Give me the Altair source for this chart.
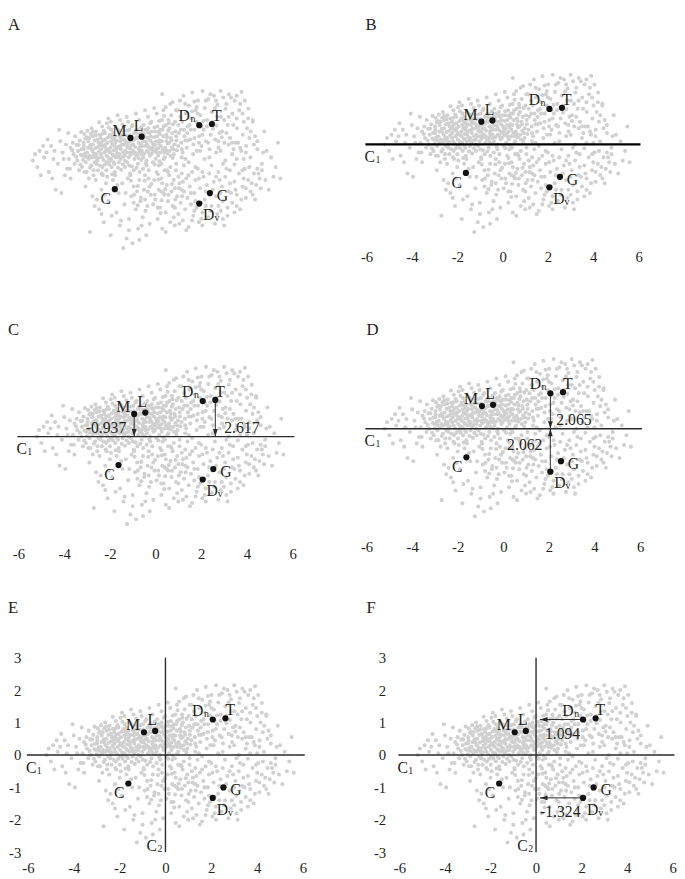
import altair as alt
import pandas as pd

# ---------------- data ----------------
core = [
    (-3.62, 0.05), (-3.55, 0.40), (-3.58, -0.25),
    (-3.42, 0.20), (-3.37, -0.10), (-3.45, 0.55), (-3.35, 0.75),
    (-3.22, 0.30), (-3.18, -0.30), (-3.25, 0.00), (-3.15, 0.62),
    (-3.03, 0.15), (-2.97, 0.45), (-3.05, -0.20), (-2.95, 0.82), (-3.00, 0.02),
    (-2.83, 0.25), (-2.78, 0.60), (-2.85, -0.35), (-2.76, 0.05), (-2.81, 0.92), (-2.79, 0.40),
    (-2.62, 0.10), (-2.58, 0.50), (-2.64, -0.15), (-2.57, 0.75), (-2.60, 0.30), (-2.55, -0.45), (-2.63, 1.00),
    (-2.43, 0.20), (-2.38, 0.65), (-2.41, -0.10), (-2.36, 0.42), (-2.44, 0.90), (-2.39, 0.00), (-2.35, -0.30),
    (-2.22, 0.35), (-2.18, 0.10), (-2.24, 0.70), (-2.16, -0.20), (-2.21, 0.55), (-2.17, 1.05), (-2.23, 0.20), (-2.19, -0.40),
    (-2.03, 0.50), (-1.98, 0.15), (-2.05, 0.85), (-1.97, -0.05), (-2.01, 0.30), (-1.96, 1.15), (-2.04, 0.65), (-1.99, -0.30),
    (-1.82, 0.25), (-1.78, 0.60), (-1.84, 0.00), (-1.77, 0.95), (-1.81, 0.40), (-1.76, -0.20), (-1.83, 0.80), (-1.79, 1.20),
    (-1.63, 0.45), (-1.58, 0.10), (-1.61, 0.75), (-1.56, 0.30), (-1.64, -0.10), (-1.57, 1.00), (-1.60, 0.55), (-1.62, -0.35),
    (-1.43, 0.20), (-1.38, 0.60), (-1.41, 0.90), (-1.36, 0.35), (-1.44, -0.05), (-1.39, 1.25), (-1.37, 0.05), (-1.42, 0.75),
    (-1.22, 0.50), (-1.18, 0.15), (-1.24, 0.80), (-1.16, 0.30), (-1.21, 1.05), (-1.17, -0.20), (-1.23, 0.65), (-1.19, 0.00),
    (-1.03, 0.40), (-0.98, 0.95), (-1.01, 0.10), (-0.96, 0.60), (-1.04, 1.20), (-0.99, -0.15), (-0.97, 0.25),
    (-0.83, 0.30), (-0.78, 0.85), (-0.81, 0.50), (-0.76, 0.05), (-0.84, 1.10), (-0.79, -0.30), (-0.77, 0.65),
    (-0.62, 0.20), (-0.58, 0.55), (-0.64, 0.95), (-0.57, 0.35), (-0.61, -0.10), (-0.56, 1.25), (-0.63, 0.70),
    (-0.43, 0.45), (-0.38, 0.10), (-0.41, 0.85), (-0.36, 1.10), (-0.44, 0.30), (-0.39, -0.25), (-0.37, 0.60),
    (-0.22, 0.30), (-0.18, 0.70), (-0.24, 0.00), (-0.16, 1.00), (-0.21, 0.50), (-0.17, 1.35), (-0.23, -0.15),
    (-0.03, 0.20), (0.02, 0.55), (-0.01, 0.90), (0.04, -0.05), (-0.02, 1.20), (0.03, 0.40),
    (0.18, 0.35), (0.22, 0.75), (0.16, 0.05), (0.24, 1.05), (0.19, 0.60), (0.21, 1.45),
    (0.38, 0.25), (0.43, 0.60), (0.36, 0.95), (0.41, -0.10), (0.44, 1.25), (0.39, 0.45),
    (0.58, 0.40), (0.63, 0.80), (0.56, 0.10), (0.61, 1.10), (0.64, 0.60),
    (0.78, 0.30), (0.83, 0.70), (0.76, 1.00), (0.81, 0.15), (0.84, 1.40),
    (0.98, 0.50), (1.03, 0.90), (0.96, 0.20), (1.01, 1.20),
    (0.45, 2.05), (0.90, 1.80), (0.60, 1.65),
]
core_fill = [
    (-3.48, 0.32), (-3.31, 0.12), (-3.28, 0.48), (-3.12, -0.12), (-3.09, 0.88), (-3.07, 0.35), (-2.92, 0.22),
    (-2.89, -0.05), (-2.90, 0.68), (-2.72, 0.15), (-2.69, 0.48), (-2.70, -0.22), (-2.67, 0.82), (-2.52, 0.22),
    (-2.49, 0.62), (-2.50, -0.05), (-2.47, 0.38), (-2.33, 0.55), (-2.31, 0.28), (-2.29, 0.80), (-2.27, -0.15),
    (-2.13, 0.45), (-2.11, 0.02), (-2.09, 0.92), (-2.08, 0.25), (-1.93, 0.35), (-1.91, 0.72), (-1.89, 0.08),
    (-1.88, 1.02), (-1.87, -0.12), (-1.73, 0.50), (-1.71, 0.18), (-1.69, 0.85), (-1.68, -0.05), (-1.67, 0.32),
    (-1.53, 0.62), (-1.51, 0.22), (-1.49, 0.95), (-1.48, -0.22), (-1.47, 0.42), (-1.33, 0.48), (-1.31, 0.78),
    (-1.29, 0.12), (-1.28, 1.12), (-1.27, -0.12), (-1.13, 0.58), (-1.11, 0.25), (-1.09, 0.92), (-1.08, -0.05),
    (-1.07, 0.42), (-0.93, 0.18), (-0.91, 0.75), (-0.89, 0.48), (-0.88, 1.05), (-0.87, -0.18), (-0.73, 0.42),
    (-0.71, 0.92), (-0.69, 0.15), (-0.68, 0.72), (-0.67, -0.22), (-0.53, 0.28), (-0.51, 0.82), (-0.49, 0.52),
    (-0.48, 1.02), (-0.47, 0.02), (-0.33, 0.22), (-0.31, 0.72), (-0.29, 0.95), (-0.28, 0.45), (-0.27, -0.08),
    (-0.13, 0.42), (-0.11, 0.85), (-0.09, 0.15), (-0.08, 1.15), (-0.07, 0.62), (0.07, 0.28), (0.09, 0.72),
    (0.11, 1.02), (0.12, -0.12), (0.13, 0.48), (0.27, 0.15), (0.29, 0.88), (0.31, 0.52), (0.32, 1.22),
    (0.33, -0.02), (0.47, 0.35), (0.49, 0.75), (0.51, 1.05), (0.52, 0.05), (0.53, 1.38), (0.67, 0.22),
    (0.69, 0.52), (0.71, 0.92), (0.72, 1.25), (0.87, 0.42), (0.89, 0.85), (0.91, 0.08), (0.92, 1.12),
    (1.07, 0.62), (1.09, 0.32), (-2.98, 0.55), (-2.58, 0.88), (-2.18, 0.82), (-1.78, 0.05), (-1.38, 0.45),
    (-0.98, 0.78), (-0.58, 0.08), (-0.18, 0.88), (0.22, 0.25), (0.62, 0.32), (-2.85, 0.72), (-2.45, 0.10),
    (-2.05, 0.42), (-1.65, 0.65), (-1.25, 0.92), (-0.85, 0.22), (-0.45, 0.68), (-0.05, 0.35), (0.35, 0.82),
    (0.75, 0.55),
    (-3.20, 0.48), (-3.10, 0.18), (-2.98, 0.35), (-2.88, 0.12), (-2.74, 0.70), (-2.66, 0.38), (-2.54, 0.15),
    (-2.46, 0.78), (-2.34, 0.08), (-2.26, 0.48), (-2.14, 0.62), (-2.06, -0.12), (-1.94, 0.55), (-1.86, 0.28),
    (-1.74, 0.72), (-1.66, 0.15), (-1.54, 0.40), (-1.46, 0.12), (-1.34, 0.68), (-1.26, 0.25), (-1.14, 0.78),
    (-1.06, 0.52), (-0.94, 0.38), (-0.86, 0.62), (-0.74, 0.25), (-0.66, 0.85), (-0.54, 0.42), (-0.46, 0.20),
    (-0.34, 0.82), (-0.26, 0.58), (-0.14, 0.25), (-0.06, 0.75), (0.06, 0.50), (0.14, 0.90), (0.26, 0.38),
    (0.34, 0.62), (0.46, 0.95), (0.54, 0.25), (0.66, 0.72), (0.74, 1.15), (0.86, 0.62), (0.94, 0.35),
    (1.06, 0.75), (1.14, 0.45), (1.26, 0.95), (1.34, 0.25), (1.46, 0.62), (1.54, 0.85), (-2.94, -0.35),
    (-2.54, -0.30), (-2.14, -0.45), (-1.74, -0.42), (-1.34, -0.28), (-0.94, -0.45), (-0.54, -0.35),
    (-0.14, -0.30), (0.26, -0.42), (0.66, -0.30), (1.06, -0.10), (1.46, 0.05), (-2.30, 1.18), (-1.90, 1.30),
    (-1.50, 1.40), (-1.10, 1.35), (-0.70, 1.45), (-0.30, 1.55), (0.10, 1.62), (0.50, 1.55), (0.80, 1.75),
    (1.05, 1.55),
]
lower_middle = [
    (-0.92, -0.62), (-0.62, -0.78), (-0.32, -0.62), (-0.02, -0.72), (0.28, -0.58), (0.58, -0.88), (0.88, -0.72),
    (1.18, -0.85), (-0.78, -1.05), (-0.48, -1.15), (-0.18, -0.95), (0.12, -1.05), (0.42, -1.22), (0.72, -1.05),
    (1.02, -1.20), (1.32, -1.10), (-0.62, -1.38), (-0.28, -1.55), (0.05, -1.35), (0.38, -1.62),
]
upper_right = [
    (1.12, 1.55), (1.18, 0.85), (1.22, 1.85), (1.28, 0.55), (1.33, 1.20), (1.38, 2.00), (1.42, 0.75), (1.47, 1.45),
    (1.52, 0.40), (1.56, 1.05), (1.61, 1.70), (1.66, 0.65), (1.71, 1.30), (1.76, 2.10), (1.81, 0.50), (1.86, 0.95),
    (1.91, 1.55), (1.96, 0.30), (2.01, 1.85), (2.06, 0.75), (2.11, 1.40), (2.16, 0.45), (2.21, 2.15), (2.26, 0.95),
    (2.31, 1.62), (2.36, 0.60), (2.41, 1.25), (2.46, 1.90), (2.51, 0.35), (2.56, 0.80), (2.61, 1.50), (2.71, 2.00),
    (2.76, 0.65), (2.81, 1.08), (2.86, 1.72), (2.91, 0.40), (3.01, 1.35), (3.06, 0.90), (3.11, 1.95), (3.16, 0.55),
    (3.21, 1.60), (3.31, 1.10), (3.36, 2.05), (3.41, 0.70), (3.51, 1.45), (3.56, 0.35), (3.61, 1.85), (3.71, 1.00),
    (3.76, 0.55), (3.81, 1.55), (3.91, 2.12), (3.96, 0.80), (4.01, 1.20), (4.11, 0.45), (4.21, 1.60), (4.31, 0.90),
    (1.15, 1.10), (1.70, 0.95), (2.25, 1.22), (2.66, 0.98), (1.45, 1.75), (1.95, 1.20), (2.85, 1.35), (3.25, 0.85),
    (3.70, 1.30), (1.30, 0.35), (4.40, 1.25), (3.00, 2.15),
    (1.25, 1.35), (1.55, 0.62), (1.85, 1.82), (2.15, 1.05), (2.45, 0.55), (2.75, 1.62), (3.05, 0.72), (3.35, 1.35),
    (3.65, 0.55), (3.95, 1.45), (4.25, 0.70), (1.40, 0.95), (1.75, 1.52), (2.05, 0.55), (2.35, 1.85), (2.65, 1.20),
    (2.95, 0.85), (3.25, 1.75), (3.55, 1.10), (3.85, 0.40), (4.15, 1.00), (4.50, 0.75), (1.95, 1.65), (2.55, 2.05),
    (3.45, 1.95),
    (1.65, 1.10), (2.00, 1.45), (2.40, 1.05), (2.80, 1.85), (3.15, 1.25), (3.50, 0.55), (3.85, 1.75), (4.20, 1.30),
    (1.85, 0.70), (2.20, 0.80), (2.90, 0.60), (3.35, 0.50), (4.45, 0.50), (4.05, 1.85), (3.70, 2.00),
]
mid_right = [
    (1.30, 0.10), (1.80, 0.20), (2.30, 0.05), (2.80, 0.25), (3.20, 0.00), (3.50, 0.20), (3.90, 0.30), (4.30, 0.10),
    (4.60, 0.35), (1.60, -0.05), (2.10, 0.30), (2.50, 0.10), (3.00, 0.30), (3.70, 0.05), (4.10, 0.25),
]
lower_right = [
    (0.10, -0.60), (0.15, -1.20), (0.20, -0.35), (0.25, -1.80), (0.30, -0.90), (0.35, -1.45), (0.40, -0.55), (0.45, -2.10),
    (0.50, -1.00), (0.55, -0.30), (0.60, -1.60), (0.65, -0.75), (0.70, -1.25), (0.75, -0.45), (0.80, -1.90), (0.85, -0.95),
    (0.90, -1.40), (0.95, -0.60), (1.00, -2.00), (1.05, -0.30), (1.10, -1.10), (1.15, -1.65), (1.20, -0.70), (1.25, -1.30),
    (1.30, -0.40), (1.35, -1.85), (1.40, -0.95), (1.45, -1.50), (1.50, -0.55), (1.55, -1.15), (1.60, -2.05), (1.65, -0.80),
    (1.70, -1.35), (1.75, -0.35), (1.80, -1.70), (1.85, -1.00), (1.90, -0.60), (1.95, -1.45), (2.00, -0.25), (2.05, -1.90),
    (2.10, -0.85), (2.20, -1.60), (2.25, -0.50), (2.30, -1.20), (2.40, -0.75), (2.45, -1.75), (2.50, -0.40), (2.60, -1.40),
    (2.70, -0.65), (2.75, -1.95), (2.80, -1.10), (2.90, -0.35), (3.00, -1.55), (3.05, -0.80), (3.10, -1.25), (3.20, -0.50),
    (3.30, -1.70), (3.35, -0.95), (3.40, -0.30), (3.50, -1.30), (3.60, -0.65), (3.70, -1.05), (3.80, -0.40), (3.85, -1.50),
    (3.95, -0.80), (4.05, -0.25), (4.10, -1.15), (4.20, -0.60), (4.30, -0.95), (4.45, -0.40), (4.55, -0.75), (4.70, -0.55),
    (0.30, -0.15), (0.80, -0.20), (1.40, -0.15), (1.90, -0.20), (2.60, -0.15), (3.10, -0.10), (3.60, -0.12), (4.00, 0.05),
    (0.55, -1.05), (1.20, -1.95), (2.15, -1.30), (2.95, -0.60), (3.45, -1.00), (4.25, -0.20), (1.00, -0.85), (2.35, -0.95),
    (0.40, -0.95), (0.70, -0.35), (1.00, -1.45), (1.30, -0.90), (1.60, -0.45), (1.90, -1.25), (2.20, -0.35), (2.50, -1.05),
    (2.80, -0.50), (3.10, -1.80), (3.40, -0.70), (3.70, -1.40), (4.00, -0.55), (4.40, -1.05), (0.60, -2.20), (1.50, -2.15),
    (2.20, -2.00), (2.90, -1.40), (3.60, -1.60), (4.10, -0.85), (0.25, -1.45), (0.95, -1.75), (1.70, -1.00), (2.55, -1.55),
    (3.25, -0.25), (3.90, -1.20), (4.60, -0.25), (0.45, -0.70), (1.15, -0.50), (1.85, -1.55),
    (2.05, -0.55), (2.35, -1.40), (2.65, -0.90), (3.00, -1.00), (3.30, -1.45), (3.65, -0.90), (3.95, -0.30),
    (4.35, -0.70), (2.15, -1.80), (2.85, -1.65), (1.35, -0.65), (1.75, -1.85), (3.15, -2.00), (4.50, -1.20),
    (4.80, -0.30),
]
lower_left = [
    (-2.90, -0.80), (-2.70, -2.20), (-2.60, -1.10), (-2.45, -0.60), (-2.30, -1.50), (-2.20, -0.90), (-2.10, -1.90),
    (-2.00, -0.70), (-1.90, -1.25), (-1.80, -2.30), (-1.70, -0.60), (-1.55, -1.60), (-1.45, -1.00), (-1.40, -2.00),
    (-1.30, -0.70), (-1.20, -1.35), (-1.10, -2.40), (-1.05, -0.55), (-1.00, -1.80), (-0.90, -1.10), (-0.85, -2.55),
    (-0.80, -0.80), (-0.70, -1.50), (-0.60, -2.10), (-0.55, -0.60), (-0.50, -1.25), (-0.40, -1.75), (-0.35, -0.90),
    (-0.25, -2.30), (-0.20, -1.40), (-0.15, -0.55), (-0.10, -1.95), (-0.05, -1.05), (-1.60, -0.45), (-2.50, -1.40),
    (-0.95, -0.40), (-0.30, -0.45), (-1.25, -2.70),
    (-2.75, -0.55), (-2.40, -1.20), (-2.05, -1.05), (-1.75, -1.70), (-1.50, -0.75), (-1.15, -1.00), (-0.80, -1.30),
    (-0.45, -2.00), (-0.10, -0.80), (-1.95, -0.50), (-1.35, -1.85), (-0.65, -0.95), (-0.30, -1.20), (-2.20, -1.65),
    (-1.00, -2.15), (-0.55, -2.45),
]
left_tail = [
    (-5.20, 0.00), (-5.00, -0.20), (-4.90, 0.30), (-4.70, 0.10), (-4.50, -0.35), (-4.40, 0.45), (-4.30, 0.05),
    (-4.10, -0.10), (-4.00, 0.60), (-3.90, 0.25), (-3.80, -0.45), (-3.75, 0.50), (-4.20, -0.90), (-3.95, -1.00),
    (-4.60, 0.25), (-3.65, 0.85), (-4.85, -0.45), (-4.55, 0.65), (-4.25, 0.30), (-3.85, 0.05), (-4.75, 0.45),
    (-4.35, -0.55), (-3.70, -0.25), (-3.55, -0.55), (-5.10, 0.20), (-4.05, 0.95),
]
right_tail = [
    (4.60, 0.60), (4.80, -0.10), (5.00, 0.30), (5.30, -0.50), (5.50, 0.55), (5.10, -0.90), (4.90, 0.90),
    (5.60, -0.55), (4.40, 1.20), (4.75, -0.85), (4.85, 0.25), (5.20, 0.10), (4.65, -0.40), (5.40, -0.20),
    (4.95, -0.60),
]

point_names = ["M", "L", "Dn", "T", "C", "G", "Dv"]
point_x = [-0.937, -0.45, 2.065, 2.617, -1.62, 2.53, 2.062]
point_y = [0.70, 0.74, 1.094, 1.13, -0.88, -1.00, -1.324]
label_main = ["M", "L", "D", "T", "C", "G", "D"]
label_sub = ["", "", "n", "", "", "", "v"]

x_tick_values = [-6, -4, -2, 0, 2, 4, 6]
y_tick_values = [-3, -2, -1, 0, 1, 2, 3]

# ---------------- styles ----------------
FONT = "Liberation Serif"
TEXT = "#231f20"
GRAY = "#d0d0d0"
LINE = "#2a2a2a"
LABEL_SIZE = 16
SUB_SIZE = 10
PX_PER_Y = 33.0
# name -> (align, dx, dy)
LABEL_STYLE = {
    "M": ("right", -4, -7),
    "L": ("center", -3, -11),
    "Dn": ("right", -4, -9),
    "T": ("left", 0, -8),
    "C": ("right", -4, 10),
    "G": ("left", 7, 3),
    "Dv": ("left", 4, 12),
}
MAIN_W = 11.5
SUB_W = 5.5
DOWN = "M-0.7,-2.2L0,0L0.7,-2.2Z"
UP = "M-0.7,2.2L0,0L0.7,2.2Z"
LEFT = "M2.2,-0.7L0,0L2.2,0.7Z"

cloud = (core + core_fill + lower_middle + upper_right + mid_right + lower_right
         + lower_left + left_tail + right_tail)
cloud_df = pd.DataFrame(cloud, columns=["x", "y"])
pts_df = pd.DataFrame({"name": point_names, "x": point_x, "y": point_y,
                       "main": label_main, "sub": label_sub})


def text_mark(**kw):
    base = dict(font=FONT, color=TEXT, baseline="middle")
    base.update(kw)
    return base


def make_panel(letter, xmin, px_per_x, ydom, letter_x, letter_y, show_x, show_y,
               xlab_pad=10, ylab_pad=12, yaxis_offset=0, hline=False, vline=False,
               line_w=1.4, line_color=LINE, arrows=None):
    width = (6 - xmin) * px_per_x
    height = (ydom[1] - ydom[0]) * PX_PER_Y
    xs = alt.Scale(domain=[xmin, 6], nice=False, zero=False)
    ys = alt.Scale(domain=ydom, nice=False, zero=False)
    xaxis = alt.Axis(values=x_tick_values, domain=False, ticks=False, grid=False, title=None,
                     labelFont=FONT, labelFontSize=15, labelColor=TEXT, labelPadding=xlab_pad,
                     labelFlush=False, labelOverlap=False, labelExpr="'' + datum.value") if show_x else None
    yaxis = alt.Axis(values=y_tick_values, domain=False, ticks=False, grid=False, title=None,
                     labelFont=FONT, labelFontSize=15, labelColor=TEXT, labelPadding=ylab_pad,
                     offset=yaxis_offset, labelFlush=False, labelOverlap=False,
                     labelExpr="'' + datum.value") if show_y else None
    X = alt.X("x:Q", scale=xs, axis=xaxis)
    Y = alt.Y("y:Q", scale=ys, axis=yaxis)

    layers = [alt.Chart(cloud_df).mark_circle(size=17, color=GRAY, opacity=1).encode(x=X, y=Y)]

    if hline:
        hdf = pd.DataFrame({"x": [-6.05], "x2": [6.08], "y": [0.0]})
        layers.append(alt.Chart(hdf).mark_rule(color=line_color, strokeWidth=line_w)
                      .encode(x=X, x2="x2:Q", y=Y))
        cdf = pd.DataFrame({"x": [-6.0], "y": [0.0], "main": ["C"], "sub": ["1"]})
        layers.append(alt.Chart(cdf).mark_text(**text_mark(align="left", dx=-2, dy=13, fontSize=LABEL_SIZE))
                      .encode(x=X, y=Y, text="main:N"))
        layers.append(alt.Chart(cdf).mark_text(**text_mark(align="left", dx=-2 + 11, dy=16, fontSize=SUB_SIZE))
                      .encode(x=X, y=Y, text="sub:N"))
    if vline:
        vdf = pd.DataFrame({"x": [0.0], "y": [-3.0], "y2": [3.0]})
        layers.append(alt.Chart(vdf).mark_rule(color=line_color, strokeWidth=line_w)
                      .encode(x=X, y=Y, y2="y2:Q"))
        c2 = pd.DataFrame({"x": [0.0], "y": [-3.0], "main": ["C"], "sub": ["2"]})
        layers.append(alt.Chart(c2).mark_text(**text_mark(align="right", dx=-3 - SUB_W, dy=-6, fontSize=LABEL_SIZE))
                      .encode(x=X, y=Y, text="main:N"))
        layers.append(alt.Chart(c2).mark_text(**text_mark(align="right", dx=-3, dy=-3, fontSize=SUB_SIZE))
                      .encode(x=X, y=Y, text="sub:N"))

    if arrows:
        for name, kind, align, tdx, tdy in arrows:
            row = pts_df[pts_df["name"] == name].iloc[0]
            if kind == "v":
                sdf = pd.DataFrame({"x": [row.x], "y": [row.y], "y2": [0.0]})
                layers.append(alt.Chart(sdf).mark_rule(color=LINE, strokeWidth=1)
                              .encode(x=X, y=Y, y2="y2:Q"))
                hdf2 = pd.DataFrame({"x": [row.x], "y": [0.0]})
                shape = DOWN if row.y > 0 else UP
                layers.append(alt.Chart(hdf2).mark_point(shape=shape, filled=True, size=49, color=LINE, opacity=1)
                              .encode(x=X, y=Y))
                tdf = pd.DataFrame({"x": [row.x], "y": [0.0], "t": [f"{row.x:.3f}"]})
            else:
                sdf = pd.DataFrame({"x": [row.x], "x2": [0.0], "y": [row.y]})
                layers.append(alt.Chart(sdf).mark_rule(color=LINE, strokeWidth=1, x2Offset=4)
                              .encode(x=X, x2="x2:Q", y=Y))
                hdf2 = pd.DataFrame({"x": [0.0], "y": [row.y]})
                layers.append(alt.Chart(hdf2).mark_point(shape=LEFT, filled=True, size=49, color=LINE,
                                                         opacity=1, xOffset=4)
                              .encode(x=X, y=Y))
                tdf = pd.DataFrame({"x": [0.0], "y": [row.y], "t": [f"{row.y:.3f}"]})
            layers.append(alt.Chart(tdf).mark_text(**text_mark(align=align, dx=tdx, dy=tdy, fontSize=16))
                          .encode(x=X, y=Y, text="t:N"))

    layers.append(alt.Chart(pts_df).mark_circle(size=40, color="#111111", opacity=1).encode(x=X, y=Y))
    for name in point_names:
        align, dx, dy = LABEL_STYLE[name]
        one = pts_df[pts_df["name"] == name]
        has_sub = one["sub"].iloc[0] != ""
        if has_sub and align == "right":
            mdx, sdx = dx - SUB_W, dx
        elif has_sub:
            mdx, sdx = dx, dx + MAIN_W
        else:
            mdx, sdx = dx, dx
        layers.append(alt.Chart(one).mark_text(**text_mark(align=align, dx=mdx, dy=dy, fontSize=LABEL_SIZE))
                      .encode(x=X, y=Y, text="main:N"))
        if has_sub:
            layers.append(alt.Chart(one).mark_text(**text_mark(align=align, dx=sdx, dy=dy + 3, fontSize=SUB_SIZE))
                          .encode(x=X, y=Y, text="sub:N"))

    # panel letter
    ldf = pd.DataFrame({"t": [letter]})
    layers.append(alt.Chart(ldf).mark_text(**text_mark(align="left", fontSize=17))
                  .encode(x=alt.value(letter_x), y=alt.value(letter_y), text="t:N"))
    return alt.layer(*layers).properties(width=width, height=height)


pA = make_panel("A", -6.28, 23.33, [-2.5, 3.5], 0, -22.5, False, False)
pB = make_panel("B", -6.0, 23.08, [-3, 3], -1, -22.5, True, False, xlab_pad=8,
                hline=True, line_w=2.2, line_color="#000000")
pC = make_panel("C", -6.46, 23.25, [-3, 2.74], 0, -18.2, True, False, xlab_pad=13, hline=True,
                arrows=[("M", "v", "right", -8, -9), ("T", "v", "left", 9, -9)])
pD = make_panel("D", -6.0, 23.2, [-3, 2.5], 0, -18.2, True, False, xlab_pad=14, hline=True,
                arrows=[("Dn", "v", "left", 6, -9), ("Dv", "v", "right", -8, 17)])
pE = make_panel("E", -6.87, 23.33, [-3, 3], 0, -50, True, True, xlab_pad=9, ylab_pad=0,
                yaxis_offset=-13, hline=True, vline=True)
pF = make_panel("F", -6.0, 23.17, [-3, 3], -33.5, -50, True, True, xlab_pad=9, ylab_pad=14,
                hline=True, vline=True,
                arrows=[("Dn", "h", "left", 9, 15), ("Dv", "h", "left", 4, 14)])

row1 = alt.hconcat(pA, pB, spacing=71)
row2 = alt.hconcat(pC, pD, spacing=64)
row3 = alt.hconcat(pE, pF, spacing=59.5)

chart = alt.vconcat(alt.vconcat(row1, row2, spacing=57), row3, spacing=38.5).properties(
    padding={"left": 0, "top": 0, "right": 0, "bottom": 0}, background="white"
).configure_view(stroke=None)

chart.save("out.html", embed_options={"renderer": "svg", "actions": False})
